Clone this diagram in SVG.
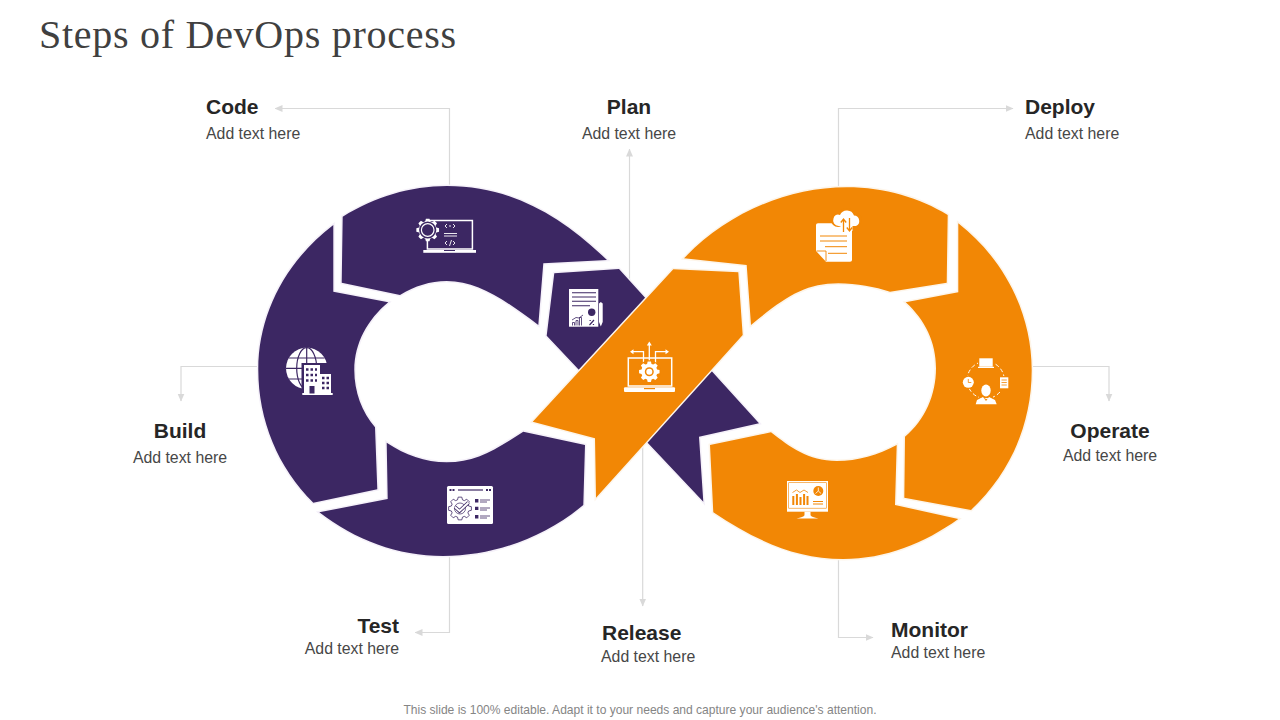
<svg xmlns="http://www.w3.org/2000/svg" width="1280" height="720" viewBox="0 0 1280 720">
<style>
.t{font-family:"Liberation Sans",Arial,sans-serif;font-weight:700;font-size:21px;fill:#262626}
.s{font-family:"Liberation Sans",Arial,sans-serif;font-size:15.850px;fill:#474747}
.p{fill:#3c2763;stroke:#f5f1f9;stroke-width:3;paint-order:stroke;stroke-linejoin:miter}
.o{fill:#f28705;stroke:#fdf5ea;stroke-width:3;paint-order:stroke}
.c{fill:none;stroke:#d9d9d9;stroke-width:1.2;marker-end:url(#a)}
.w{fill:#fff}
.ws{fill:none;stroke:#fff}
.pu{fill:#3c2763}
.pus{fill:none;stroke:#3c2763}
.or{fill:#f28705}
.ors{fill:none;stroke:#f28705}
.m{text-anchor:middle}
.e{text-anchor:end}
</style>
<defs>
<marker id="a" viewBox="0 0 8 8" refX="7.500" refY="4" markerWidth="8" markerHeight="8" markerUnits="userSpaceOnUse" orient="auto"><path d="M0 0.500L8 4L0 7.500Z" fill="#d9d9d9"/></marker>
<path id="gear" d="M8.650-2.480L11.360-1.800L11.360 1.800L8.650 2.480L7.870 4.360L9.310 6.760L6.760 9.310L4.360 7.870L2.480 8.650L1.800 11.360L-1.800 11.360L-2.480 8.650L-4.360 7.870L-6.760 9.310L-9.310 6.760L-7.870 4.360L-8.650 2.480L-11.360 1.800L-11.360-1.800L-8.650-2.480L-7.870-4.360L-9.310-6.760L-6.760-9.310L-4.360-7.870L-2.480-8.650L-1.800-11.360L1.800-11.360L2.480-8.650L4.360-7.870L6.760-9.310L9.310-6.760L7.870-4.360Z"/>
</defs>
<rect width="1280" height="720" fill="#fff"/>
<text x="39" y="48.300" font-family="'Liberation Serif','Times New Roman',serif" font-size="40px" fill="#404040" textLength="417" lengthAdjust="spacing">Steps of DevOps process</text>
<g id="connectors">
<path class="c" d="M449.500 190V108.500H275"/>
<path class="c" d="M629.500 285V149"/>
<path class="c" d="M838.500 190V108.500H1013"/>
<path class="c" d="M262 366.500H181V401"/>
<path class="c" d="M1028 366.500H1109V401"/>
<path class="c" d="M449.500 552V632.500H415"/>
<path class="c" d="M642.700 445V606"/>
<path class="c" d="M838.500 555V637.500H873"/>
</g>
<g id="node-plan">
<path class="p" d="M554.300 273.300L619 269L759 423.300L699 436.700L703.300 501.700L546.700 335.700Z"/>
<g id="icon-plan">
<rect class="w" x="569" y="289" width="29.300" height="37.700"/>
<path class="pus" stroke-width="1.100" d="M572 292.700H596M572 297H596M572 301.300H596M572 305.700H590"/>
<circle class="pu" cx="591.700" cy="312.300" r="3.700"/>
<path class="pus" stroke-width="1.200" d="M589.500 325L594 320M589.500 320.500h1.300M592.800 324.500h1.300"/>
<path class="pus" stroke-width="0.800" d="M572.500 325.500v-3h2v3M576 325.500v-5h2v5M579.500 325.500v-8h2v8M572 320L576 317.500L579 318L583 315"/>
<path class="w" d="M599 303.500l1.800-1.500l1.900 1.500V322l-1.900 4.500L599 322Z"/>
</g>
<text class="t m" x="629" y="114">Plan</text>
<text class="s m" x="629" y="139">Add text here</text>
</g>
<g id="node-code">
<path class="p" d="M342.700 216.700C375 197 410 186 447 186C510 186 560 215 607 260L543.300 263.300L538.300 325C505 300 478 281 446.700 281C430 281 415 286 400 295L341.700 282.700Z"/>
<g id="icon-code">
<rect class="ws" x="427.400" y="220.500" width="45" height="28.500" stroke-width="1.500"/>
<rect class="w" x="423.300" y="250" width="52.700" height="2.800"/>
<rect class="pu" x="444" y="250" width="11" height="1"/>
<use href="#gear" transform="translate(427.700 230)" class="w"/>
<circle cx="427.700" cy="230" r="8.600" class="pu"/>
<circle cx="427.700" cy="230" r="6.300" class="ws" stroke-width="1.200"/>
<path class="ws" stroke-width="0.900" d="M447 224l-2 2l2 2M449 226h2M453 224l2 2l-2 2M444 233.500h13M444 236h13M447 241l-2 2l2 2M451.500 240l-2 6M453 241l2 2l-2 2"/>
</g>
<text class="t" x="206" y="114">Code</text>
<text class="s" x="206" y="139">Add text here</text>
</g>
<g id="node-build">
<path class="p" d="M333.300 225C285 262 258 315 258.300 370C258.300 420 278 468 313.300 502.700L377.300 489.300L375 427.300C362 412 354.300 392 354.300 370C354.300 343 368 319 388.300 302.300L333.300 291.700Z"/>
<g id="icon-build">
<circle class="w" cx="306.700" cy="368.300" r="20.700"/>
<g class="pus" stroke-width="1.200"><ellipse cx="306.700" cy="368.300" rx="10" ry="20.700"/><path d="M306.700 347.600v41M286 368.300h41M289 358h35.500M289 379h25"/></g>
<rect class="pu" x="301.500" y="363" width="31.500" height="33"/>
<rect class="w" x="304" y="365" width="16" height="28.500"/>
<rect class="w" x="320" y="374" width="11" height="19.500"/>
<rect class="w" x="302.300" y="393" width="30.400" height="2"/>
<path class="pus" stroke-width="2.300" stroke-dasharray="2.500 2" d="M306 369.500h11M306 375h11M306 380.500h11M322 378h8M322 383h8M322 388h8"/>
<rect class="pu" x="309.500" y="386" width="5" height="7.500"/>
</g>
<text class="t m" x="180" y="438">Build</text>
<text class="s m" x="180" y="463">Add text here</text>
</g>
<g id="node-test">
<path class="p" d="M319.300 512.300C355 540 398 556 443 556C495 556 545 537 583.300 505L585 445L523.300 431.700C495 450 475 462.300 446.700 462.300C425 462 405 455 386.700 442.700L387.700 499Z"/>
<g id="icon-test">
<rect class="w" x="447" y="486" width="46" height="38" rx="1.500"/>
<path class="pus" stroke-width="1.200" d="M458 490h25"/>
<path class="pus" stroke-width="1.800" stroke-dasharray="2 1" d="M449.500 490h5M486 490h5"/>
<use href="#gear" transform="translate(460 508.500)" class="w" stroke="#3c2763" stroke-width="0.800"/>
<circle class="pus" cx="460" cy="508.500" r="5.500" stroke-width="0.700"/>
<path class="pus" stroke-width="3.600" d="M455 507l4.500 4l9-8.500"/>
<path class="ws" stroke-width="2" d="M455 507l4.500 4l9-8.500"/>
<path class="pu" d="M475 499h3.400v3.400H475ZM475 506.700h3.400v3.400H475ZM475 515h3.400v3.400H475Z"/>
<path class="pus" stroke-width="0.800" d="M480 500h10M480 502h7M480 508h10M480 510h7M480 516h10M480 518h7"/>
</g>
<text class="t e" x="399" y="633">Test</text>
<text class="s e" x="399" y="654">Add text here</text>
</g>
<g id="node-deploy">
<path class="o" d="M684 258.300C725 215 785 187.300 846.700 187.300C885 187.300 920 198 947.700 215L946.700 282.700L890 291.700C875 287 857 283.300 838.300 283.300C805 283.300 785 297 751 325L746.700 265Z"/>
<g id="icon-deploy">
<path class="w" d="M816 225Q816 223.300 818 223.300H850Q852 223.300 852 225V260Q852 261.700 850 261.700H826L816 251Z"/>
<path class="ors" stroke-width="0.900" d="M816.500 251H826V261"/>
<path class="ors" stroke-width="1" d="M820 236H847M820 241H847M825 246.700H847M828 253.300H847"/>
<circle class="or" cx="838" cy="220" r="7"/><circle class="or" cx="847" cy="217" r="9"/><circle class="or" cx="855" cy="220" r="7"/>
<path class="w" d="M838.500 226A5.500 5.500 0 0 1 833.500 218.500A4.500 4.500 0 0 1 840 215A7.500 7.500 0 0 1 854 215.500A5.500 5.500 0 0 1 856 226Z"/>
<path class="w" d="M840.500 220h12v11h-12Z"/>
<path class="ors" stroke-width="1.300" d="M843.500 232V219M840.800 222.500l2.700-3.500l2.700 3.500M849.500 218V231M846.800 227.500l2.700 3.500l2.700-3.500"/>
</g>
<text class="t" x="1025" y="114">Deploy</text>
<text class="s" x="1025" y="139">Add text here</text>
</g>
<g id="node-operate">
<path class="o" d="M958.300 223.300C1003 258 1031.700 312 1031.700 370C1031.700 425 1010 473 971 510L904.300 497.700L905 436.700C925 420 936 395 936 368.300C936 342 925 320 905.700 302.300L958.300 292.300Z"/>
<g id="icon-operate">
<circle class="ws" cx="985.700" cy="380" r="18.600" stroke-width="1" stroke-dasharray="4 2.500"/>
<rect class="or" x="978" y="357" width="16" height="12"/>
<circle class="or" cx="968.300" cy="382.300" r="6.800"/>
<rect class="or" x="998.500" y="376" width="11.500" height="14"/>
<rect class="w" x="979.300" y="358.300" width="13.400" height="8.400"/>
<rect class="w" x="978" y="366.800" width="16" height="1.200"/>
<circle class="w" cx="968.300" cy="382.300" r="5.500"/>
<path class="ors" stroke-width="0.800" d="M968.300 379v3.500h3"/>
<rect class="w" x="1000" y="377.300" width="8.300" height="11"/>
<path class="ors" stroke-width="0.800" d="M1001.500 380h5.300M1001.500 382.500h5.300M1001.500 385h5.300"/>
<rect class="or" x="979" y="383" width="14" height="15"/>
<ellipse class="w" cx="986" cy="390.500" rx="4.700" ry="6"/>
<path class="w" d="M975.700 404.200L977 400L983 397L986 401L989 397L995 400L996.700 404.200Z"/>
</g>
<text class="t m" x="1110" y="438">Operate</text>
<text class="s m" x="1110" y="461">Add text here</text>
</g>
<g id="node-monitor">
<path class="o" d="M958.300 519C925 543 885 559 843.300 559C795 559 755 540 713.300 512.300L710 445L771 432.300C790 447 808 461 836.700 461C858 461 878 455 896.700 445L895 505Z"/>
<g id="icon-monitor">
<rect class="w" x="787" y="481" width="41" height="30.700"/>
<rect class="ors" x="788.700" y="482.700" width="37.600" height="25.500" stroke-width="0.600"/>
<path class="w" d="M804.500 511.700h6v3.500q1 2 8 3.300h-22q7-1.300 8-3.300Z"/>
<path class="ors" stroke-width="2" d="M793.300 505v-9M796.900 505v-11M800.500 505v-8M804.100 505v-11M807.500 505v-9"/>
<path class="ors" stroke-width="0.800" d="M792.500 492.500l4-2.500l3.500 2.500l4-2.500l4 2.500"/>
<circle class="or" cx="818.300" cy="491" r="5"/>
<path class="ws" stroke-width="0.800" d="M818.300 491v-3.500M818.300 491l-2.800 2.500M818.300 491l2.800 2.500"/>
<path class="ors" stroke-width="1.200" d="M813 501.500h10M813 504h10"/>
</g>
<text class="t" x="891" y="637">Monitor</text>
<text class="s" x="891" y="658">Add text here</text>
</g>
<g id="node-release">
<path class="o" d="M532.700 421.700L673.300 269.300L738.300 272.300L742.700 335L596 497.700L595 438.300Z"/>
<g id="icon-release">
<rect class="ws" x="628.300" y="358" width="43.400" height="28" stroke-width="1.500"/>
<rect class="w" x="624" y="387.300" width="51" height="4.700" rx="1"/>
<rect class="or" x="644" y="388" width="11" height="1.200"/>
<path class="ws" stroke-width="1.300" d="M649.300 344V362M643.500 366V351.700H632M655.500 366V351.700H667"/>
<path class="w" d="M649.300 341.500l-2.500 4h5ZM630 351.700l3.500-2.500v5ZM669 351.700l-3.500-2.500v5Z"/>
<circle class="or" cx="649.300" cy="371.700" r="11.500"/>
<use href="#gear" transform="translate(649.300 371.700) scale(0.900)" class="w"/>
<circle class="or" cx="649.300" cy="371.700" r="4.500"/>
<circle class="w" cx="649.300" cy="371.700" r="3"/>
</g>
<text class="t" x="602" y="640">Release</text>
<text class="s" x="601" y="662">Add text here</text>
</g>
<text x="640" y="714" text-anchor="middle" font-family="'Liberation Sans',Arial,sans-serif" font-size="12.050px" fill="#858585">This slide is 100% editable. Adapt it to your needs and capture your audience's attention.</text>
</svg>
